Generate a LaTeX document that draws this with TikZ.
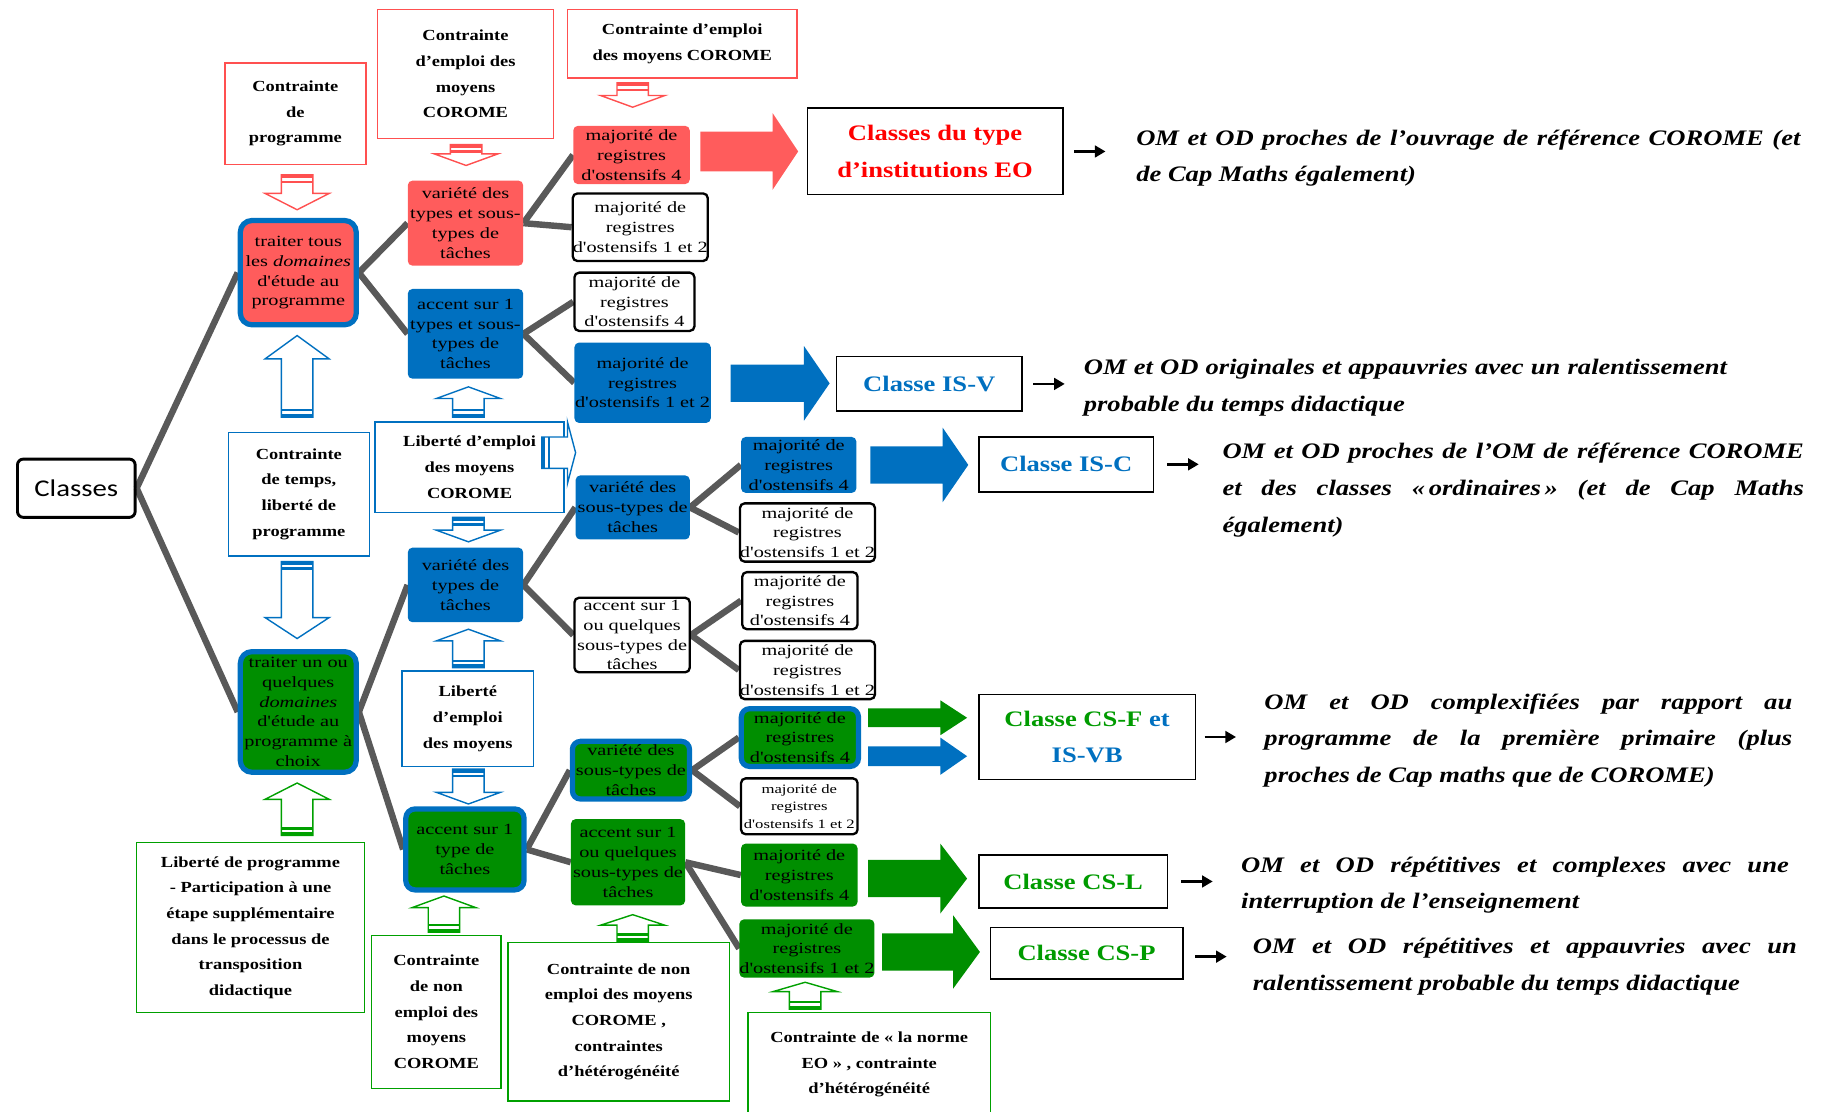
\documentclass[tikz,border=0pt]{standalone}
\usepackage{fontspec}
\setmainfont{Liberation Serif}
\newfontfamily\bt[FakeStretch=1.2]{Liberation Serif}
\newfontfamily\bx[FakeStretch=1.3]{Liberation Serif}
\newfontfamily\cl[FakeStretch=1.2]{Carlito}
\usetikzlibrary{arrows.meta,calc}
\pgfdeclarelayer{bg}
\pgfsetlayers{bg,main}
\definecolor{rfill}{RGB}{255,92,92}
\definecolor{rline}{RGB}{255,80,80}
\definecolor{rtext}{RGB}{255,0,0}
\definecolor{bl}{RGB}{0,112,192}
\definecolor{gfill}{RGB}{0,142,0}
\definecolor{gline}{RGB}{0,160,0}
\definecolor{gtext}{RGB}{0,155,0}
\definecolor{conn}{RGB}{89,89,89}
\newcommand\varr[5]{%
\pgfmathsetmacro{\sg}{sign(#4-#3)}%
\pgfmathsetmacro{\hb}{#4-(#5)*\sg}%
\pgfmathsetmacro{\sa}{#3+3*\sg}%
\pgfmathsetmacro{\sbb}{#3+5*\sg}%
\pgfmathsetmacro{\sc}{#3+7*\sg}%
\draw[#1,line width=1.2pt,fill=white,line join=miter] (#2-13.5,#3) -- (#2-13.5,\hb) -- (#2-27.5,\hb) -- (#2,#4) -- (#2+27.5,\hb) -- (#2+13.5,\hb) -- (#2+13.5,#3) -- cycle;
\fill[#1] (#2-13.5,#3) rectangle (#2+13.5,\sa);
\fill[#1] (#2-13.5,\sbb) rectangle (#2+13.5,\sc);
}
\newcommand\barr[7]{%
\fill[#1] (#2,#4-#5) -- (#3-#7,#4-#5) -- (#3-#7,#4-#6) -- (#3,#4) -- (#3-#7,#4+#6) -- (#3-#7,#4+#5) -- (#2,#4+#5) -- cycle;}
\tikzset{
 tb/.style={rounded corners=4pt, align=center, inner sep=0pt, font=\bx\fontsize{13.4}{17}\selectfont},
 rf/.style={tb, fill=rfill},
 bf/.style={tb, fill=bl},
 gf/.style={tb, fill=gfill},
 wb/.style={tb, draw=black, line width=2pt, fill=white},
 bb/.style={draw=bl, line width=4.5pt},
 cb/.style={draw, line width=1.3pt, fill=white, align=center, inner sep=0pt, font=\bt\bfseries\fontsize{13.2}{22}\selectfont},
 cr/.style={cb, draw=rline}, cbl/.style={cb, draw=bl}, cg/.style={cb, draw=gline},
 kb/.style={draw=black, line width=1.5pt, align=center, inner sep=0pt, font=\bt\bfseries\fontsize{19}{31}\selectfont},
 rt/.style={anchor=north west, inner sep=0pt, align=left, font=\bt\bfseries\itshape\fontsize{19}{31.5}\selectfont},
 cn/.style={draw=conn, line width=5.5pt},
 sarr/.style={-{Triangle[length=9pt,width=10pt]}, line width=2pt}
}
\begin{document}
\begin{tikzpicture}[x=1pt,y=-1pt]
\useasboundingbox (0,0) rectangle (1568,954);
% root
\node[draw=black,line width=2.5pt,rounded corners=5pt,minimum width=101,minimum height=50,inner sep=0pt,font=\cl\fontsize{20.6}{24}\selectfont] (cls) at (65.5,419) {Classes};
% constraint boxes top
\node[cr,minimum width=121,minimum height=87] (t1) at (253.5,97.5) {Contrainte\\de\\programme};
\node[cr,minimum width=151,minimum height=111] (t2) at (399.5,63.5) {Contrainte\\d’emploi des\\moyens\\COROME};
\node[cr,minimum width=197,minimum height=59] (t3) at (585.5,37.5) {Contrainte d’emploi\\des moyens COROME};
% level A
\node[rf,bb,rounded corners=10pt,minimum width=99.5,minimum height=89.5] (a1) at (256,234) {traiter tous\\les \textit{domaines}\\d'étude au\\programme};
\node[cbl,minimum width=121,minimum height=106] (ct) at (256.5,424) {Contrainte\\de temps,\\liberté de\\programme};
\node[gf,bb,rounded corners=10pt,minimum width=99.5,minimum height=103.5] (a2) at (256,611) {traiter un ou\\quelques\\\textit{domaines}\\d'étude au\\programme à\\choix};
\node[cg,minimum width=196,minimum height=146] (lp) at (215,796) {Liberté de programme\\- Participation à une\\étape supplémentaire\\dans le processus de\\transposition\\didactique};
% level B
\node[rf,minimum width=99,minimum height=73] (b1) at (399.5,191.5) {variété des\\types et sous-\\types de\\tâches};
\node[bf,minimum width=99,minimum height=77] (b2) at (399.5,286.5) {accent sur 1\\types et sous-\\types de\\tâches};
\node[cbl,minimum width=162,minimum height=78] (lec) at (403,401) {Liberté d’emploi\\des moyens\\COROME};
\node[bf,minimum width=99,minimum height=64] (b3) at (399.5,502) {variété des\\types de\\tâches};
\node[cbl,minimum width=113,minimum height=82] (le) at (401.5,617) {Liberté\\d’emploi\\des moyens};
\node[gf,bb,rounded corners=8pt,minimum width=101.5,minimum height=69.5] (b4) at (399,729) {accent sur 1\\type de\\tâches};
\node[cg,minimum width=111,minimum height=131] (ne) at (374.5,868.5) {Contrainte\\de non\\emploi des\\moyens\\COROME};
% level C
\node[rf,minimum width=100,minimum height=50] (c1) at (542,133) {majorité de\\registres\\d'ostensifs 4};
\node[wb,minimum width=113,minimum height=58] (c2) at (549.5,195) {majorité de\\registres\\d'ostensifs 1 et 2};
\node[wb,minimum width=103,minimum height=50] (c3) at (544.5,259) {majorité de\\registres\\d'ostensifs 4};
\node[bf,minimum width=117,minimum height=69] (c4) at (551.5,328.5) {majorité de\\registres\\d'ostensifs 1 et 2};
\node[bf,minimum width=98,minimum height=55] (c5) at (543,435.5) {variété des\\sous-types de\\tâches};
\node[wb,minimum width=99,minimum height=64] (c6) at (542.5,545) {accent sur 1\\ou quelques\\sous-types de\\tâches};
\node[gf,bb,rounded corners=7pt,minimum width=100.5,minimum height=49.5] (c7) at (541.5,661) {variété des\\sous-types de\\tâches};
\node[gf,minimum width=98,minimum height=74] (c8) at (539,740) {accent sur 1\\ou quelques\\sous-types de\\tâches};
\node[cg,minimum width=190,minimum height=136] (nec) at (531,877) {Contrainte de non\\emploi des moyens\\COROME ,\\contraintes\\d’hétérogénéité};
% level D
\node[bf,minimum width=99,minimum height=48] (d1) at (685.5,399) {majorité de\\registres\\d'ostensifs 4};
\node[wb,minimum width=112,minimum height=50] (d2) at (693,457) {majorité de\\registres\\d'ostensifs 1 et 2};
\node[wb,minimum width=99,minimum height=49] (d3) at (686.5,515.5) {majorité de\\registres\\d'ostensifs 4};
\node[wb,minimum width=112,minimum height=50] (d4) at (693,575) {majorité de\\registres\\d'ostensifs 1 et 2};
\node[gf,bb,rounded corners=7pt,minimum width=100.5,minimum height=49.5] (d5) at (686.5,633) {majorité de\\registres\\d'ostensifs 4};
\node[wb,minimum width=100,minimum height=48,font=\bx\fontsize{11}{15}\selectfont] (d6) at (686,692) {majorité de\\registres\\d'ostensifs 1 et 2};
\node[gf,minimum width=100,minimum height=54] (d7) at (686,751) {majorité de\\registres\\d'ostensifs 4};
\node[gf,minimum width=113,minimum height=50] (d8) at (692.5,814) {majorité de\\registres\\d'ostensifs 1 et 2};
\node[cg,minimum width=208,minimum height=89] (nrm) at (746,913.5) {Contrainte de « la norme\\EO » , contrainte\\d’hétérogénéité};
% class boxes
\node[kb,text=rtext,minimum width=219,minimum height=74] (keo) at (802.5,130) {Classes du type\\d’institutions EO};
\node[kb,text=bl,minimum width=159,minimum height=47] (kisv) at (797.5,329.5) {Classe IS-V};
\node[kb,text=bl,minimum width=150,minimum height=47] (kisc) at (915,398.5) {Classe IS-C};
\node[kb,minimum width=186,minimum height=73] (kcsf) at (933,632.5) {\textcolor{gtext}{Classe CS-F} \textcolor{bl}{et}\\\textcolor{bl}{IS-VB}};
\node[kb,text=gtext,minimum width=162,minimum height=45] (kcsl) at (921,756.5) {Classe CS-L};
\node[kb,text=gtext,minimum width=165,minimum height=44] (kcsp) at (932.5,818) {Classe CS-P};
% right texts
\node[rt] (xeo) at (975,111) {\makebox[570pt][s]{OM et OD proches de l’ouvrage de référence COROME (et}\\de Cap Maths également)};
\node[rt] (xisv) at (930,308) {\makebox[552pt][s]{OM et OD originales et appauvries avec un ralentissement}\\probable du temps didactique};
\node[rt] (xisc) at (1049,380) {\makebox[499pt][s]{OM et OD proches de l’OM de référence COROME}\\\makebox[499pt][s]{et des classes «\,ordinaires\,» (et de Cap Maths}\\également)};
\node[rt] (xcsf) at (1085,595) {\makebox[453pt][s]{OM et OD complexifiées par rapport au}\\\makebox[453pt][s]{programme de la première primaire (plus}\\proches de Cap maths que de COROME)};
\node[rt] (xcsl) at (1065,735) {\makebox[470pt][s]{OM et OD répétitives et complexes avec une}\\interruption de l’enseignement};
\node[rt] (xcsp) at (1075,805) {\makebox[467pt][s]{OM et OD répétitives et appauvries avec un}\\ralentissement probable du temps didactique};
% small arrows
\draw[sarr] ([xshift=9pt]keo.east) -- ++(27,0);
\draw[sarr] ([xshift=9pt]kisv.east) -- ++(27,0);
\draw[sarr] ([xshift=11pt]kisc.east) -- ++(27,0);
\draw[sarr] ([xshift=7pt]kcsf.east) -- ++(27,0);
\draw[sarr] ([xshift=11pt]kcsl.east) -- ++(27,0);
\draw[sarr] ([xshift=10pt,yshift=-3pt]kcsp.east) -- ++(27,0);
% big block arrows
\barr{rfill}{601}{685}{130}{17}{33}{22}
\barr{bl}{627}{712}{329}{16}{32}{22}
\barr{bl}{747}{831}{399}{16}{32}{22}
\barr{gfill}{745}{830}{616}{8}{15}{23}
\barr{bl}{745}{830}{649}{8.5}{16}{23}
\barr{gfill}{745}{830}{754}{16}{30}{23}
\barr{gfill}{757}{841}{817}{16}{31.5}{23}
% hollow arrows
\varr{rline}{255}{150}{180}{14}
\varr{rline}{400}{124}{142}{10}
\varr{rline}{543}{71}{92}{10}
\varr{bl}{255}{358}{288}{20}
\varr{bl}{255}{482}{548}{18}
\varr{gline}{255}{717}{672}{14}
\varr{bl}{402}{358}{332}{10}
\varr{bl}{402}{444}{465}{10}
\varr{bl}{402}{573}{540}{10}
\varr{bl}{402}{660}{690}{10}
\varr{gline}{381}{800}{769}{10}
\varr{gline}{543}{808}{785}{9}
\varr{gline}{691}{866}{843}{8}
% right hollow arrow on lec
\draw[bl,line width=1.2pt,fill=white] (465,375) -- (487,375) -- (487,362) -- (494,388.5) -- (487,415) -- (487,402) -- (465,402) -- cycle;
\fill[bl] (465,375) rectangle (468,402);
\fill[bl] (470,375) rectangle (472,402);
% connectors
\begin{pgfonlayer}{bg}
\draw[cn] (cls.east) -- (a1.west);
\draw[cn] (cls.east) -- (a2.west);
\draw[cn] (a1.east) -- (b1.west);
\draw[cn] (a1.east) -- (b2.west);
\draw[cn] (b1.east) -- (c1.west);
\draw[cn] (b1.east) -- (c2.west);
\draw[cn] (b2.east) -- (c3.west);
\draw[cn] (b2.east) -- (c4.west);
\draw[cn] (a2.east) -- (b3.west);
\draw[cn] (a2.east) -- (b4.west);
\draw[cn] (b3.east) -- (c5.west);
\draw[cn] (b3.east) -- (c6.west);
\draw[cn] (c5.east) -- (d1.west);
\draw[cn] (c5.east) -- (d2.west);
\draw[cn] (c6.east) -- (d3.west);
\draw[cn] (c6.east) -- (d4.west);
\draw[cn] (b4.east) -- (c7.west);
\draw[cn] (b4.east) -- (c8.west);
\draw[cn] (c7.east) -- (d5.west);
\draw[cn] (c7.east) -- (d6.west);
\draw[cn] (c8.east) -- (d7.west);
\draw[cn] (c8.east) -- (d8.west);
\end{pgfonlayer}
\end{tikzpicture}
\end{document}
